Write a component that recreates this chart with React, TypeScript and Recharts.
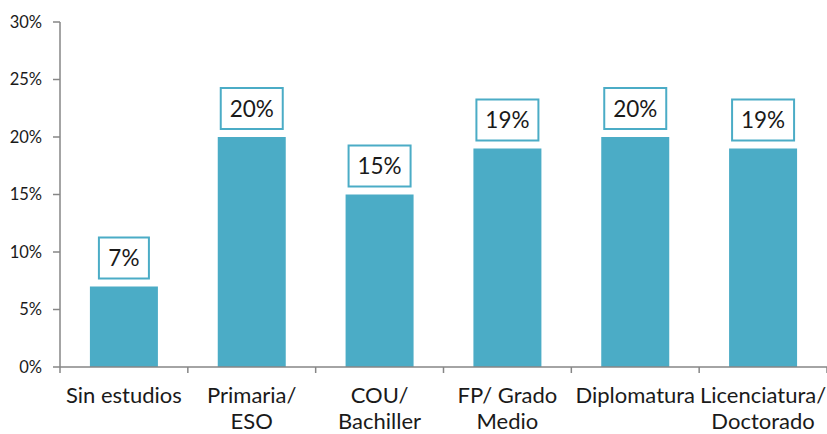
import { Bar, BarChart, LabelList, XAxis, YAxis } from 'recharts'

const categories = [
  'Sin estudios',
  'Primaria/\nESO',
  'COU/\nBachiller',
  'FP/ Grado\nMedio',
  'Diplomatura',
  'Licenciatura/\nDoctorado',
]
const shares = [7, 20, 15, 19, 20, 19]
const yTicks = [0, 5, 10, 15, 20, 25, 30]

const data = categories.map((name, i) => ({ name, value: shares[i] }))

const AXIS = '#868686'
const TEAL = '#4bacc6'
const FONT = 'Lato, "Open Sans", sans-serif'

function CategoryTick(props: any) {
  const { x, y, payload, index } = props
  const half = payload?.offset ?? 767 / 12
  const lines = String(payload.value).split('\n')
  return (
    <g>
      <line x1={x + half} y1={y} x2={x + half} y2={y + 6} stroke={AXIS} strokeWidth={1.5} />
      {index === 0 && <line x1={x - half} y1={y} x2={x - half} y2={y + 6} stroke={AXIS} strokeWidth={1.5} />}
      {lines.map((t, i) => (
        <text key={i} x={x} y={y + 36 + i * 26} textAnchor="middle" fill="#1a1a1a" fontSize={22} fontFamily={FONT}>
          {t}
        </text>
      ))}
    </g>
  )
}

function BoxLabel(props: any) {
  const { x, y, width, value } = props
  const text = `${value}%`
  const w = 26 + 12 * text.length
  const h = 41
  const cx = x + width / 2
  const bottom = y - 8
  return (
    <g>
      <rect x={cx - w / 2} y={bottom - h} width={w} height={h} fill="#fff" stroke={TEAL} strokeWidth={2} />
      <text x={cx} y={bottom - h / 2 + 8} textAnchor="middle" fill="#1a1a1a" fontSize={22.5} fontFamily={FONT}>
        {text}
      </text>
    </g>
  )
}

export default function App() {
  return (
    <div style={{ position: 'absolute', left: 0, top: 0, background: '#fff' }}>
      <BarChart width={827} height={434} data={data} margin={{ top: 22, right: 0, bottom: 0, left: 0 }} barCategoryGap="23.4%">
        <XAxis
          dataKey="name"
          interval={0}
          height={67}
          tickLine={false}
          tickSize={0}
          tickMargin={0}
          axisLine={{ stroke: AXIS, strokeWidth: 1.5 }}
          tick={<CategoryTick />}
        />
        <YAxis
          width={60}
          domain={[0, 30]}
          ticks={yTicks}
          interval={0}
          tickFormatter={(v) => `${v}%`}
          tickSize={7}
          tickMargin={11}
          axisLine={{ stroke: AXIS, strokeWidth: 1.5 }}
          tickLine={{ stroke: AXIS, strokeWidth: 1.5 }}
          tick={{ fill: '#1a1a1a', fontSize: 16.5, fontFamily: FONT }}
        />
        <Bar dataKey="value" fill={TEAL} isAnimationActive={false}>
          <LabelList dataKey="value" content={<BoxLabel />} />
        </Bar>
      </BarChart>
    </div>
  )
}
